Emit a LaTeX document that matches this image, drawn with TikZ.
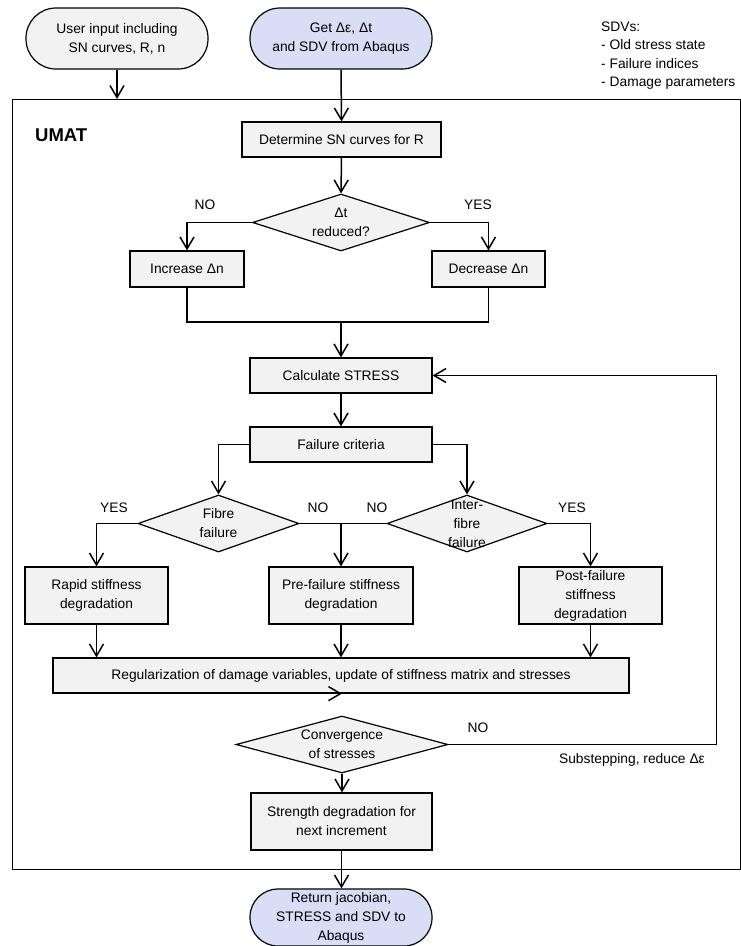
\documentclass[tikz,border=0pt]{standalone}
\usepackage{fontspec}
\setmainfont{Liberation Sans}
\usetikzlibrary{arrows.meta,shapes.geometric,calc}
\definecolor{boxfill}{RGB}{242,242,242}
\definecolor{bluefill}{RGB}{217,222,247}
\begin{document}
\begin{tikzpicture}[x=1pt,y=-1pt,
  every node/.style={font=\fontsize{13.8}{19}\selectfont, inner sep=0pt},
  procbox/.style={draw, line width=1.2pt, fill=boxfill, rectangle, align=center},
  termgray/.style={draw, line width=1.2pt, fill=boxfill, rectangle, rounded corners=30pt, align=center, minimum width=182pt, minimum height=61pt},
  termblue/.style={draw, line width=1.2pt, fill=bluefill, rectangle, rounded corners=28pt, align=center, minimum width=182pt, minimum height=57pt},
  decision/.style={draw, line width=1.2pt, fill=boxfill, diamond},
  conn/.style={line width=1.5pt},
  arr/.style={conn, -{Straight Barb[length=12pt,width=14pt]}},
  lbl/.style={font=\fontsize{13.8}{19}\selectfont}
]
\useasboundingbox (0,0) rectangle (741,946);

% frame
\node[draw, line width=1.3pt, rectangle, anchor=north west, minimum width=727.5pt, minimum height=770pt] (umat) at (12,99) {};
\node[anchor=west, font=\fontsize{18.5}{20}\selectfont\bfseries] (umatlbl) at (35,135) {UMAT};

% terminals
\node[termgray] (user) at (117,38.5) {User input including\\SN curves, R, n};
\node[termblue, minimum height=61pt, rounded corners=30pt] (get) at (341,38.5) {Get Δε, Δt\\and SDV from Abaqus};
\node[align=left, anchor=west, font=\fontsize{13.8}{18.4}\selectfont] (sdv) at (601,55.5) {SDVs:\\- Old stress state\\- Failure indices\\- Damage parameters};

% process
\node[procbox, minimum width=199pt, minimum height=35pt] (det) at (341.5,139.5) {Determine SN curves for R};
\node[decision, minimum width=177pt, minimum height=57pt, label={[align=center, lbl]center:Δt\\reduced?}] (dt) at (341,222.5) {};
\node[procbox, minimum width=114pt, minimum height=36pt] (inc) at (187,269) {Increase Δn};
\node[procbox, minimum width=113pt, minimum height=36pt] (dec) at (488.5,269) {Decrease Δn};
\coordinate (join) at (341,322);
\node[procbox, minimum width=182pt, minimum height=35pt] (calc) at (341,375.5) {Calculate STRESS};
\node[procbox, minimum width=182pt, minimum height=35pt] (fail) at (341,444.5) {Failure criteria};
\node[decision, minimum width=161pt, minimum height=57pt, label={[align=center, lbl]center:Fibre\\failure}] (fib) at (218.5,523.5) {};
\node[decision, minimum width=160pt, minimum height=57pt, label={[align=center, lbl]center:Inter-\\fibre\\failure}] (inter) at (467,523.5) {};
\node[procbox, minimum width=143pt, minimum height=57pt] (rapid) at (96.5,595.5) {Rapid stiffness\\degradation};
\node[procbox, minimum width=144pt, minimum height=57pt] (pre) at (341,595.5) {Pre-failure stiffness\\degradation};
\node[procbox, minimum width=143pt, minimum height=57pt] (post) at (590.5,595.5) {Post-failure\\stiffness\\degradation};
\node[procbox, minimum width=576pt, minimum height=35pt] (reg) at (341,675.5) {Regularization of damage variables, update of stiffness matrix and stresses};
\node[decision, minimum width=212pt, minimum height=57pt, label={[align=center, lbl]center:Convergence\\of stresses}] (conv) at (342,744.5) {};
\node[procbox, minimum width=181pt, minimum height=57pt] (str) at (341.5,821.5) {Strength degradation for\\next increment};
\node[termblue] (ret) at (341,917.5) {Return jacobian,\\STRESS and SDV to\\Abaqus};

% labels
\node[lbl] (l1) at (205,205) {NO};
\node[lbl] (l2) at (478,205) {YES};
\node[lbl] (l3) at (114,508) {YES};
\node[lbl] (l4) at (318,508) {NO};
\node[lbl] (l5) at (377,508) {NO};
\node[lbl] (l6) at (572,508) {YES};
\node[lbl] (l7) at (478,728) {NO};
\node[lbl] (l8) at (632,760) {Substepping, reduce Δε};

% connectors
\draw[arr] (user.south) -- (user.south |- umat.north);
\draw[arr] (get.south) -- (det.north);
\draw[arr] (det.south) -- (dt.north);
\draw[arr] (dt.west) -| (inc.north);
\draw[arr] (dt.east) -| (dec.north);
\draw[conn] (inc.south) |- (join) -| (dec.south);
\draw[arr] (join) -- (calc.north);
\draw[arr] (calc.south) -- (fail.north);
\draw[arr] (fail.west) -| (fib.north);
\draw[arr] (fail.east) -| (inter.north);
\draw[arr] (fib.west) -| (rapid.north);
\draw[arr] (inter.east) -| (post.north);
\coordinate (nojoin) at (pre.north |- fib.east);
\draw[conn] (fib.east) -- (nojoin) -- (inter.west);
\draw[arr] (nojoin) -- (pre.north);
\draw[arr] (rapid.south) -- (rapid.south |- reg.north);
\draw[arr] (pre.south) -- (pre.south |- reg.north);
\draw[arr] (post.south) -- (post.south |- reg.north);
\draw[arr] (reg.south) -- (reg.south -| conv.north) ;
\draw[arr] (conv.south) -- (conv.south |- str.north);
\draw[arr] (str.south) -- (str.south |- ret.north);
\coordinate (fbx) at (716.5,744.5);
\draw[arr] (conv.east) -- (fbx) |- (calc.east);
\end{tikzpicture}
\end{document}
